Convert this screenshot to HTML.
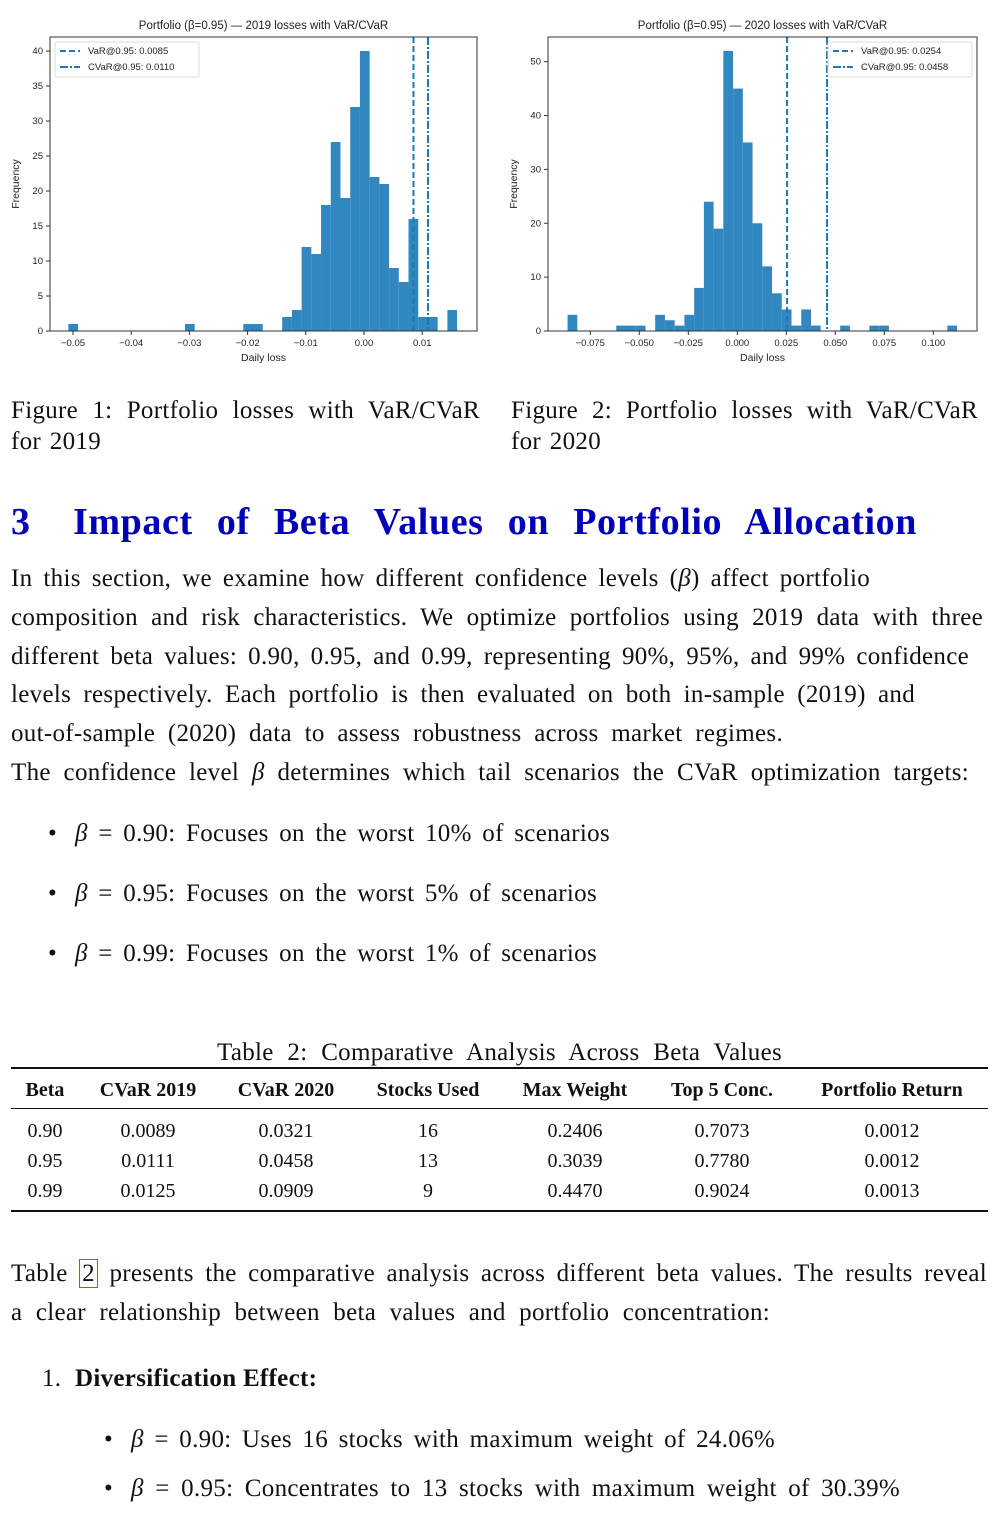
<!DOCTYPE html>
<html><head><meta charset="utf-8">
<style>
body{margin:0;width:1002px;height:1532px;background:#fff;position:relative;overflow:hidden;font-family:"Liberation Serif",serif;color:#111}
.l{position:absolute;font-size:25px;letter-spacing:0.3px;line-height:28px;text-align:justify;text-align-last:justify;white-space:normal}
.i{font-style:italic}
svg text{font-family:"Liberation Sans",sans-serif;fill:#222}
.tb{position:absolute;font-size:20px;line-height:24px;text-align:center}
.rule{position:absolute;left:11px;width:977px;background:#111}
</style></head><body>
<svg id="charts" width="1002" height="380" style="position:absolute;left:0;top:0"></svg>

<div class="l" style="left:11px;top:397px;width:469px">Figure 1: Portfolio losses with VaR/CVaR</div>
<div class="l" style="left:11px;top:428px;width:90px">for 2019</div>
<div class="l" style="left:511px;top:397px;width:467px">Figure 2: Portfolio losses with VaR/CVaR</div>
<div class="l" style="left:511px;top:428px;width:90px">for 2020</div>

<div class="l" style="left:11px;top:500px;width:906px;font-size:38px;letter-spacing:0.6px;line-height:44px;font-weight:bold;color:#0000bb"><span style="display:inline-block;width:62px;text-align:left;text-align-last:left">3</span>Impact of Beta Values on Portfolio Allocation</div>

<div class="l" style="left:11px;top:565px;width:859px">In this section, we examine how different confidence levels (<span class="i">β</span>) affect portfolio</div>
<div class="l" style="left:11px;top:604px;width:972px">composition and risk characteristics. We optimize portfolios using 2019 data with three</div>
<div class="l" style="left:11px;top:643px;width:958px">different beta values: 0.90, 0.95, and 0.99, representing 90%, 95%, and 99% confidence</div>
<div class="l" style="left:11px;top:681px;width:904px">levels respectively. Each portfolio is then evaluated on both in-sample (2019) and</div>
<div class="l" style="left:11px;top:720px;width:772px">out-of-sample (2020) data to assess robustness across market regimes.</div>
<div class="l" style="left:11px;top:759px;width:958px">The confidence level <span class="i">β</span> determines which tail scenarios the CVaR optimization targets:</div>

<div class="l" style="left:48px;top:820px">•</div>
<div class="l" style="left:75px;top:820px;width:535px"><span class="i">β</span> = 0.90: Focuses on the worst 10% of scenarios</div>
<div class="l" style="left:48px;top:880px">•</div>
<div class="l" style="left:75px;top:880px;width:522px"><span class="i">β</span> = 0.95: Focuses on the worst 5% of scenarios</div>
<div class="l" style="left:48px;top:940px">•</div>
<div class="l" style="left:75px;top:940px;width:522px"><span class="i">β</span> = 0.99: Focuses on the worst 1% of scenarios</div>

<div class="l" style="left:217px;top:1039px;width:565px">Table 2: Comparative Analysis Across Beta Values</div>
<div class="rule" style="top:1067px;height:2px"></div>
<div class="rule" style="top:1108px;height:1px"></div>
<div class="rule" style="top:1210px;height:2px"></div>
<div id="tbl"></div>

<div class="l" style="left:11px;top:1260px;width:976px">Table <span style="border:1px solid #e33;padding:0 2px">2</span> presents the comparative analysis across different beta values. The results reveal</div>
<div class="l" style="left:11px;top:1299px;width:759px">a clear relationship between beta values and portfolio concentration:</div>

<div class="l" style="left:42px;top:1365px">1.</div>
<div class="l" style="left:75px;top:1365px;width:273px;font-weight:bold;text-align-last:left">Diversification Effect:</div>
<div class="l" style="left:104px;top:1426px">•</div>
<div class="l" style="left:131px;top:1426px;width:644px"><span class="i">β</span> = 0.90: Uses 16 stocks with maximum weight of 24.06%</div>
<div class="l" style="left:104px;top:1475px">•</div>
<div class="l" style="left:131px;top:1475px;width:769px"><span class="i">β</span> = 0.95: Concentrates to 13 stocks with maximum weight of 30.39%</div>

<script>
// ---- chart data ----
const counts2019 = [1,0,0,0,0,0,0,0,0,0,0,0,1,0,0,0,0,0,1,1,0,0,2,3,12,11,18,27,19,32,40,22,21,9,7,16,2,2,0,3];
const binMin2019 = -0.0508, binMax2019 = 0.0160;
const var2019 = 0.0085, cvar2019 = 0.0110;
const xTicks2019 = [-0.05,-0.04,-0.03,-0.02,-0.01,0.00,0.01];
const xTickLabels2019 = ["−0.05","−0.04","−0.03","−0.02","−0.01","0.00","0.01"];
const yTicks2019 = [0,5,10,15,20,25,30,35,40];

const counts2020 = [3,0,0,0,0,1,1,1,0,3,2,1,3,8,24,19,52,45,35,20,12,7,4,1,4,1,0,0,1,0,0,1,1,0,0,0,0,0,0,1];
const binMin2020 = -0.0866, binMax2020 = 0.1121;
const var2020 = 0.0254, cvar2020 = 0.0458;
const xTicks2020 = [-0.075,-0.05,-0.025,0,0.025,0.05,0.075,0.1];
const xTickLabels2020 = ["−0.075","−0.050","−0.025","0.000","0.025","0.050","0.075","0.100"];
const yTicks2020 = [0,10,20,30,40,50];

const tableHeaders = ["Beta","CVaR 2019","CVaR 2020","Stocks Used","Max Weight","Top 5 Conc.","Portfolio Return"];
const tableRows = [
 ["0.90","0.0089","0.0321","16","0.2406","0.7073","0.0012"],
 ["0.95","0.0111","0.0458","13","0.3039","0.7780","0.0012"],
 ["0.99","0.0125","0.0909","9","0.4470","0.9024","0.0013"]];

const NS="http://www.w3.org/2000/svg";
const svg=document.getElementById('charts');
function mk(tag,attrs,parent){const e=document.createElementNS(NS,tag);for(const k in attrs)e.setAttribute(k,attrs[k]);(parent||svg).appendChild(e);return e;}

function drawChart(o){
  const g=mk('g',{});
  
  
  const xs=v=>o.x0+v*o.xk, ys=c=>o.yb-c*o.yk;
  const n=o.counts.length, w=(o.bmax-o.bmin)/n;
  o.counts.forEach((c,i)=>{ if(!c) return;
    const r=mk('rect',{x:xs(o.bmin+i*w),y:ys(c),width:xs(o.bmin+(i+1)*w)-xs(o.bmin+i*w),height:o.yb-ys(c),fill:'#3187c0'},g);
    
    
  });
  const ln1=mk('line',{x1:xs(o.vr),x2:xs(o.vr),y1:o.top,y2:o.yb,stroke:'#1f77b4','stroke-width':2,'stroke-dasharray':'6,3'},g);
  
  
  const ln2=mk('line',{x1:xs(o.cv),x2:xs(o.cv),y1:o.top,y2:o.yb,stroke:'#1f77b4','stroke-width':2,'stroke-dasharray':'8,2,2,2'},g);
  
  
  const fr=mk('rect',{x:o.left,y:o.top,width:o.right-o.left,height:o.yb-o.top,fill:'none',stroke:'#333','stroke-width':1},g);
  
  
  o.xt.forEach((v,i)=>{
    mk('line',{x1:xs(v),x2:xs(v),y1:o.yb,y2:o.yb+4,stroke:'#333'},g);
    const t=mk('text',{x:xs(v),y:o.yb+15,'font-size':9.5,'text-anchor':'middle'},g);t.textContent=o.xl[i];
    
    
  });
  o.yt.forEach(v=>{
    mk('line',{x1:o.left-4,x2:o.left,y1:ys(v),y2:ys(v),stroke:'#333'},g);
    const t=mk('text',{x:o.left-7,y:ys(v)+3,'font-size':9.5,'text-anchor':'end'},g);t.textContent=v;
    
    
  });
  const ti=mk('text',{x:(o.left+o.right)/2,y:29,'font-size':11.5,'text-anchor':'middle'},g);ti.textContent=o.title;
  
  
  const xl=mk('text',{x:(o.left+o.right)/2,y:361,'font-size':10.5,'text-anchor':'middle'},g);xl.textContent='Daily loss';
  
  
  const yl=mk('text',{x:0,y:0,'font-size':10.5,'text-anchor':'middle',transform:`translate(${o.left-31},${(o.top+o.yb)/2}) rotate(-90)`},g);yl.textContent='Frequency';
  
  
  const lg=mk('g',{},g);
  
  
  mk('rect',{x:o.lgx,y:42,width:144,height:35,rx:2,fill:'#fff','fill-opacity':0.85,stroke:'#ddd'},lg);
  mk('line',{x1:o.lgx+5,x2:o.lgx+25,y1:51,y2:51,stroke:'#1f77b4','stroke-width':2,'stroke-dasharray':'6,3'},lg);
  mk('line',{x1:o.lgx+5,x2:o.lgx+25,y1:67,y2:67,stroke:'#1f77b4','stroke-width':2,'stroke-dasharray':'8,2,2,2'},lg);
  const a=mk('text',{x:o.lgx+33,y:54,'font-size':9.5},lg);a.textContent='VaR@0.95: '+o.vr.toFixed(4);
  
  
  const b=mk('text',{x:o.lgx+33,y:70,'font-size':9.5},lg);b.textContent='CVaR@0.95: '+o.cv.toFixed(4);
  
  
}
drawChart({name:'histogram-2019',counts:counts2019,bmin:binMin2019,bmax:binMax2019,vr:var2019,cv:cvar2019,xt:xTicks2019,xl:xTickLabels2019,yt:yTicks2019,
  x0:364,xk:5820,yb:331,yk:7,top:37,left:50,right:477,lgx:55,title:'Portfolio (β=0.95) — 2019 losses with VaR/CVaR'});
drawChart({name:'histogram-2020',counts:counts2020,bmin:binMin2020,bmax:binMax2020,vr:var2020,cv:cvar2020,xt:xTicks2020,xl:xTickLabels2020,yt:yTicks2020,
  x0:737.3,xk:1960,yb:331,yk:5.387,top:37,left:548,right:977,lgx:828,title:'Portfolio (β=0.95) — 2020 losses with VaR/CVaR'});

// table
const colCenters=[45,148,286,428,575,722,892];
const tbl=document.getElementById('tbl');
function cell(txt,x,y,bold,name){const d=document.createElement('div');d.className='tb';d.style.left=(x-90)+'px';d.style.width='180px';d.style.top=(y-12)+'px';if(bold)d.style.fontWeight='bold';d.textContent=txt;
  
  
  tbl.appendChild(d);}
tableHeaders.forEach((h,i)=>cell(h,colCenters[i],1090,true,'table-header'));
tableRows.forEach((r,j)=>r.forEach((v,i)=>cell(v,colCenters[i],1131+j*30,false,'table-cell')));
</script>
</body></html>
